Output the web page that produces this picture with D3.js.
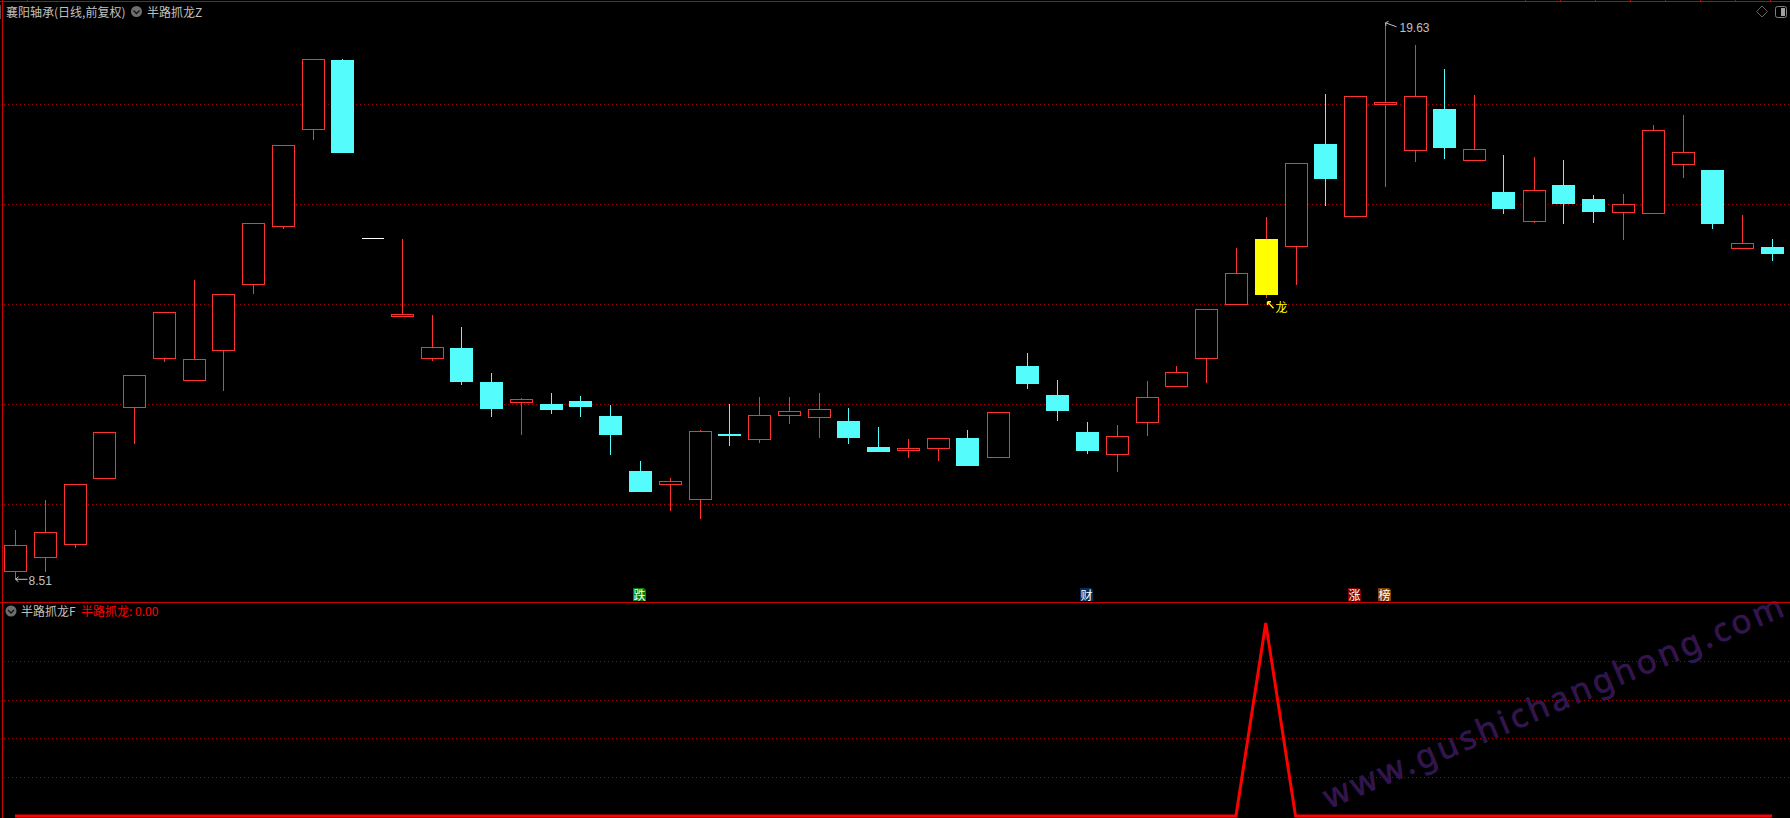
<!DOCTYPE html>
<html><head><meta charset="utf-8">
<script src="https://cdn.jsdelivr.net/npm/d3@7"></script>
<style>html,body{margin:0;padding:0;background:#000;overflow:hidden}svg{display:block}text{font-family:"Noto Sans CJK SC","Liberation Sans",sans-serif;font-size:12px}</style>
</head><body><div id="c"></div>
<script>
const kinds=["r","r","r","r","r","r","r","r","r","r","r","c","w","r","r","c","c","r","c","c","c","c","r","r","c","r","r","r","c","c","r","r","c","r","c","c","c","r","r","r","r","r","y","r","c","r","r","r","c","r","c","r","c","c","r","r","r","c","r","c"];
const bodyHigh=[9.18,9.44,10.40,11.44,12.58,13.84,12.90,14.20,15.62,17.18,18.90,18.89,15.32,13.79,13.14,13.13,12.45,12.10,12.01,12.07,11.77,10.67,10.46,11.46,11.41,11.78,11.86,11.90,11.67,11.15,11.12,11.32,11.33,11.84,12.77,12.19,11.45,11.36,12.14,12.64,13.90,14.62,15.31,16.82,17.21,18.16,18.04,18.16,17.91,17.10,16.25,16.28,16.39,16.11,16.00,17.48,17.04,16.69,15.22,15.15];
const bodyLow=[8.65,8.93,9.19,10.51,11.93,12.91,12.47,13.07,14.39,15.55,17.50,17.03,15.32,13.76,12.91,12.45,11.91,12.03,11.89,11.95,11.39,10.25,10.39,10.09,11.37,11.29,11.77,11.73,11.33,11.05,11.07,11.11,10.77,10.93,12.41,11.87,11.07,10.99,11.63,12.35,12.91,13.99,14.19,15.15,16.51,15.75,17.99,17.07,17.13,16.87,15.91,15.65,16.01,15.85,15.83,15.81,16.79,15.61,15.11,15.01];
const highs=[9.49,10.09,10.41,11.44,12.58,13.84,14.49,14.20,15.62,17.18,18.90,18.91,15.32,15.31,13.79,13.55,12.63,12.13,12.23,12.17,11.99,10.87,10.53,11.49,12.01,12.15,12.15,12.23,11.93,11.55,11.31,11.32,11.49,11.84,13.03,12.49,11.65,11.59,12.47,12.77,13.90,15.13,15.75,16.82,18.21,18.16,19.63,19.19,18.71,18.19,16.99,16.95,16.89,16.19,16.21,17.59,17.79,16.69,15.79,15.31];
const lows=[8.51,8.65,9.13,10.51,11.21,12.85,12.47,12.27,14.21,15.51,17.29,17.03,15.32,13.76,12.87,12.39,11.75,11.39,11.81,11.75,10.99,10.25,9.87,9.71,11.17,11.23,11.61,11.33,11.21,11.05,10.93,10.87,10.77,10.93,12.31,11.67,11.01,10.65,11.37,12.35,12.43,13.99,14.13,14.39,15.97,15.75,16.35,16.85,16.91,16.87,15.81,15.63,15.61,15.63,15.29,15.81,16.53,15.51,15.11,14.87];
const signal=[0,0,0,0,0,0,0,0,0,0,0,0,0,0,0,0,0,0,0,0,0,0,0,0,0,0,0,0,0,0,0,0,0,0,0,0,0,0,0,0,0,0,100,0,0,0,0,0,0,0,0,0,0,0,0,0,0,0,0,0];
const priceTicks=[10,12,14,16,18];
const signalTicks=[20,40,60,80];
const tags=[{i:21,t:"跌",c:"#008000"},{i:36,t:"财",c:"#003060"},{i:45,t:"涨",c:"#800000"},{i:46,t:"榜",c:"#804000"}];
const titleMain="襄阳轴承(日线,前复权)", titleInd="半路抓龙Z", lowerName="半路抓龙F", lowerValue="半路抓龙: 0.00";
const watermark="www.gushichanghong.com";

const W=1790,H=818,RED="#ff3232",CYAN="#54fcfc",FRAME="#c80000",GRID="#a80000",GREY="#c0c0c0";
const svg=d3.select("#c").append("svg").attr("width",W).attr("height",H).style("background","#000");
const x=d3.scalePoint().domain(d3.range(kinds.length)).range([15,1772]);
const y=d3.scaleLinear().domain([8.51,19.63]).range([578.8,22.8]);
const y2=d3.scaleLinear().domain([0,100]).range([816,623]);
const cx=i=>(kinds[i]==="c"?Math.floor(x(i)):Math.round(x(i)))+.5;
const sn=v=>Math.floor(v)+.5;

// grids through axes
const gridAxis=(sc,vals)=>d3.axisLeft(sc).tickValues(vals).tickSize(-(W-4)).tickFormat("");
[[y,priceTicks],[y2,signalTicks]].forEach(([sc,vals])=>{
  const g=svg.append("g").attr("transform","translate(4,0)").call(gridAxis(sc,vals));
  g.select(".domain").remove();
  g.selectAll(".tick").attr("transform",d=>`translate(0,${sn(sc(d))})`);
  g.selectAll("line").attr("stroke",GRID).attr("stroke-dasharray","1 3").attr("shape-rendering","crispEdges");
});

// watermark
svg.append("text").text(watermark)
  .attr("transform","translate(1329,809) rotate(-23)")
  .attr("style",'font-family:"Noto Sans","Open Sans",sans-serif;font-size:33px;letter-spacing:3.5px')
  .attr("fill","#3e1048").attr("stroke","#241e58").attr("stroke-width",.7);

// frame
const frame=svg.append("g").attr("stroke",FRAME).attr("shape-rendering","crispEdges");
frame.append("line").attr("x1",0).attr("x2",W).attr("y1",1.5).attr("y2",1.5);
frame.append("line").attr("x1",2.5).attr("x2",2.5).attr("y1",0).attr("y2",H);
frame.append("line").attr("x1",0).attr("x2",W).attr("y1",602.5).attr("y2",602.5);
frame.selectAll(".t").data([27,...d3.range(8).map(k=>1525+k*35)]).join("line").attr("x1",d=>d+.5).attr("x2",d=>d+.5).attr("y1",0).attr("y2",2);
svg.append("line").attr("x1",.5).attr("x2",.5).attr("y1",5).attr("y2",19).attr("stroke","#505050");

// candles
const colour={r:RED,c:CYAN,y:"#ffff00",w:"#ffffff"};
const g=svg.append("g").attr("shape-rendering","crispEdges");
const idx=d3.range(kinds.length);
g.selectAll(".wick").data(idx.filter(i=>kinds[i]!=="w")).join("line")
  .attr("x1",cx).attr("x2",cx).attr("y1",i=>Math.round(y(highs[i]))).attr("y2",i=>Math.round(y(lows[i])))
  .attr("stroke",i=>kinds[i]==="y"?RED:colour[kinds[i]]);
g.selectAll(".hollow").data(idx.filter(i=>kinds[i]==="r")).join("rect")
  .attr("x",i=>cx(i)-11).attr("width",22)
  .attr("y",i=>sn(y(bodyHigh[i]))).attr("height",i=>sn(y(bodyLow[i]))-sn(y(bodyHigh[i])))
  .attr("fill","#000").attr("stroke",RED);
g.selectAll(".filled").data(idx.filter(i=>kinds[i]==="c"||kinds[i]==="y")).join("rect")
  .attr("x",i=>cx(i)-11.5).attr("width",23)
  .attr("y",i=>Math.round(y(bodyHigh[i]))).attr("height",i=>Math.round(y(bodyLow[i]))-Math.round(y(bodyHigh[i])))
  .attr("fill",i=>colour[kinds[i]]);
g.selectAll(".flat").data(idx.filter(i=>kinds[i]==="w")).join("line")
  .attr("x1",i=>cx(i)-11).attr("x2",i=>cx(i)+11).attr("y1",i=>sn(y(bodyHigh[i]))).attr("y2",i=>sn(y(bodyHigh[i])))
  .attr("stroke","#fff");

// lower line
svg.append("path").datum(signal).attr("fill","none").attr("stroke","#ff0000").attr("stroke-width",3)
  .attr("d",d3.line().x((d,i)=>x(i)).y(d=>y2(d)));

// helpers
const label=(s,px,py,fill,anchor)=>svg.append("text").text(s).attr("x",px).attr("y",py).attr("fill",fill).attr("dominant-baseline","central").attr("text-anchor",anchor||"start");
const badge=(px,py)=>{
  svg.append("circle").attr("cx",px).attr("cy",py).attr("r",5.5).attr("fill","#6e6e6e");
  svg.append("path").attr("d",`M${px-3},${py-1}L${px},${py+2}L${px+3},${py-1}`).attr("fill","none").attr("stroke","#141414").attr("stroke-width",1.3);
};
// titles
label(titleMain,6,11,GREY); badge(136.5,11.5); label(titleInd,147,11,GREY);
badge(11,611); label(lowerName,21,610.5,GREY); label(lowerValue,81,610.5,"#ff0000");

// extreme annotations
const iLow=lows.indexOf(d3.min(lows)), iHigh=highs.indexOf(d3.max(highs));
svg.append("path").attr("d",`M${cx(iLow)+12},${y(8.51)+.5}H${cx(iLow)}l3,-2.5M${cx(iLow)},${y(8.51)+.5}l3,2.5`).attr("fill","none").attr("stroke",GREY);
label(d3.format(".2f")(lows[iLow]),cx(iLow)+13,y(8.51)+2,GREY).attr("style",'font-family:"Liberation Sans";font-size:12px');
svg.append("path").attr("d",`M${cx(iHigh)+11},${y(19.63)+4}L${cx(iHigh)},${y(19.63)}l3,-1.5M${cx(iHigh)},${y(19.63)}l.5,3`).attr("fill","none").attr("stroke",GREY);
label(d3.format(".2f")(highs[iHigh]),cx(iHigh)+14,y(19.63)+5,GREY).attr("style",'font-family:"Liberation Sans";font-size:12px');

// dragon signal
const iD=kinds.indexOf("y");
svg.append("path").attr("d",`M${cx(iD)+7},${y(lows[iD])+10.5}L${cx(iD)+1},${y(lows[iD])+4}M${cx(iD)+1},${y(lows[iD])+4}h3.5M${cx(iD)+1},${y(lows[iD])+4}v3.5`).attr("fill","none").attr("stroke","#ffff00").attr("stroke-width",1.4);
label("龙",cx(iD)+15,y(lows[iD])+9,"#ffff00","middle");

// tags
tags.forEach(d=>{
  const l=cx(d.i)-7.5;
  svg.append("path").attr("d",`M${l},588H${l+11}l2,2V601H${l}Z`).attr("fill",d.c);
  label(d.t,l+6.5,594.5,"#fff","middle");
});

// top-right icons
svg.append("path").attr("d","M1762,6L1767.5,11.5L1762,17L1756.5,11.5Z").attr("fill","none").attr("stroke","#606060");
svg.append("rect").attr("x",1775.5).attr("y",6.5).attr("width",11).attr("height",11).attr("rx",2).attr("fill","none").attr("stroke","#808080");
svg.append("rect").attr("x",1781).attr("y",8).attr("width",4).attr("height",8).attr("fill","#a0a0a0");
</script></body></html>
